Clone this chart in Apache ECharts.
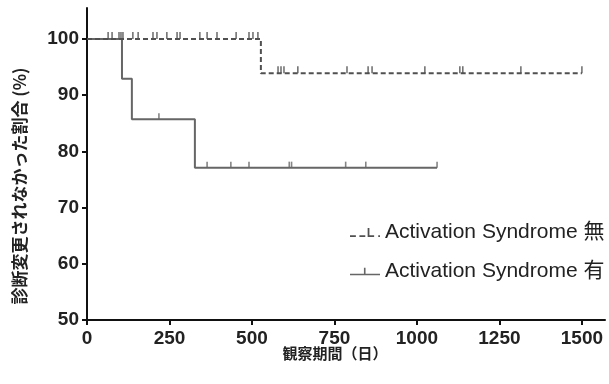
<!DOCTYPE html>
<html><head><meta charset="utf-8">
<script src="https://cdn.jsdelivr.net/npm/echarts@6/dist/echarts.min.js"></script>
<style>html,body{margin:0;padding:0;background:#fff}#c{width:609px;height:384px}</style>
</head><body><div id="c"></div>
<script>
// Group without activation syndrome (無)
const noStepDays = [0, 527, 1500];
const noStepVals = [100, 93.9, 93.9];
const noCensorDays100 = [64, 76, 97, 103, 109, 139, 155, 200, 212, 242, 273, 282, 342, 364, 394, 452, 491, 503, 518];
const noCensorDays94 = [579, 588, 597, 639, 788, 852, 864, 1024, 1130, 1139, 1315, 1500];
// Group with activation syndrome (有)
const yesStepDays = [0, 106, 136, 327, 1061];
const yesStepVals = [100, 92.9, 85.7, 77.1, 77.1];
const yesCensorDays857 = [218];
const yesCensorDays771 = [364, 436, 491, 613, 620, 784, 845, 1061];
const xTicks = [0, 250, 500, 750, 1000, 1250, 1500];
const yTicks = [50, 60, 70, 80, 90, 100];
const nameNo = 'Activation Syndrome 無';
const nameYes = 'Activation Syndrome 有';
const xTitle = '観察期間（日）';
const yTitle = '診断変更されなかった割合 (%)';

const zip = (a, b) => a.map((v, i) => [v, b[i]]);
const noCensor = noCensorDays100.map(d => [d, noStepVals[0]]).concat(noCensorDays94.map(d => [d, noStepVals[1]]));
const yesCensor = yesCensorDays857.map(d => [d, yesStepVals[2]]).concat(yesCensorDays771.map(d => [d, yesStepVals[3]]));

const colNo = '#505050';
const colYes = '#666';
const tickSym = 'path://M0,0h1v10h-1z';
const font = '"Liberation Sans", Arial, "Noto Sans CJK JP", sans-serif';
const cjk = '"Noto Sans CJK JP", sans-serif';

const chart = echarts.init(document.getElementById('c'), null, {renderer: 'canvas'});
chart.setOption({
  animation: false,
  grid: {left: 87, right: 4, top: 8, bottom: 64},
  xAxis: {
    type: 'value', min: 0, max: 1570,
    axisLine: {show: true, onZero: false, lineStyle: {color: '#111', width: 2}},
    axisTick: {show: true, length: 5, lineStyle: {color: '#111', width: 2}, customValues: xTicks},
    axisLabel: {customValues: xTicks, margin: 9, color: '#222', fontSize: 19, fontWeight: 'bold', fontFamily: font,
                formatter: v => String(v)},
    splitLine: {show: false}
  },
  yAxis: {
    type: 'value', min: 50, max: 105.5,
    axisLine: {show: true, lineStyle: {color: '#111', width: 2}},
    axisTick: {show: true, length: 5, lineStyle: {color: '#111', width: 2}, customValues: yTicks},
    axisLabel: {customValues: yTicks, margin: 8, color: '#222', fontSize: 19, fontWeight: 'bold', fontFamily: font,
                formatter: v => String(v)},
    splitLine: {show: false}
  },
  legend: {
    orient: 'vertical', left: 345, top: 217, itemWidth: 30, itemHeight: 10, itemGap: 18,
    textStyle: {fontSize: 21, color: '#222', fontFamily: font},
    data: [
      {name: nameNo, icon: 'path://M0,7h5v1.5h-5z M8,7h5v1.5h-5z M15,1h1.5v7.5h-1.5z M16.5,7h4v1.5h-4z M24,7h1.5v1.5h-1.5z'},
      {name: nameYes, icon: 'path://M0,7h28v1.5h-28z M13,1.5h1.5v6h-1.5z'}
    ]
  },
  series: [
    {name: nameNo, type: 'line', step: 'end', data: zip(noStepDays, noStepVals), symbol: 'none', color: colNo,
     lineStyle: {color: colNo, width: 2, type: [5, 3]}, z: 3},
    {name: nameYes, type: 'line', step: 'end', data: zip(yesStepDays, yesStepVals), symbol: 'none', color: colYes,
     lineStyle: {color: colYes, width: 2}, z: 2},
    {name: 'censorNo', type: 'scatter', data: noCensor, symbol: tickSym, symbolSize: [1.6, 7], symbolOffset: [0, -3.5],
     itemStyle: {color: colNo}, z: 4, silent: true},
    {name: 'censorYes', type: 'scatter', data: yesCensor, symbol: tickSym, symbolSize: [1.6, 6], symbolOffset: [0, -3],
     itemStyle: {color: colYes}, z: 4, silent: true}
  ],
  graphic: [
    {type: 'text', x: 335, y: 353,
     style: {text: xTitle, font: 'bold 15px ' + cjk, fill: '#222', align: 'center', verticalAlign: 'middle'}},
    {type: 'text', x: 20, y: 186, rotation: Math.PI / 2,
     style: {text: yTitle, font: 'bold 17px ' + cjk, fill: '#222', align: 'center', verticalAlign: 'middle'}}
  ]
});
</script></body></html>
